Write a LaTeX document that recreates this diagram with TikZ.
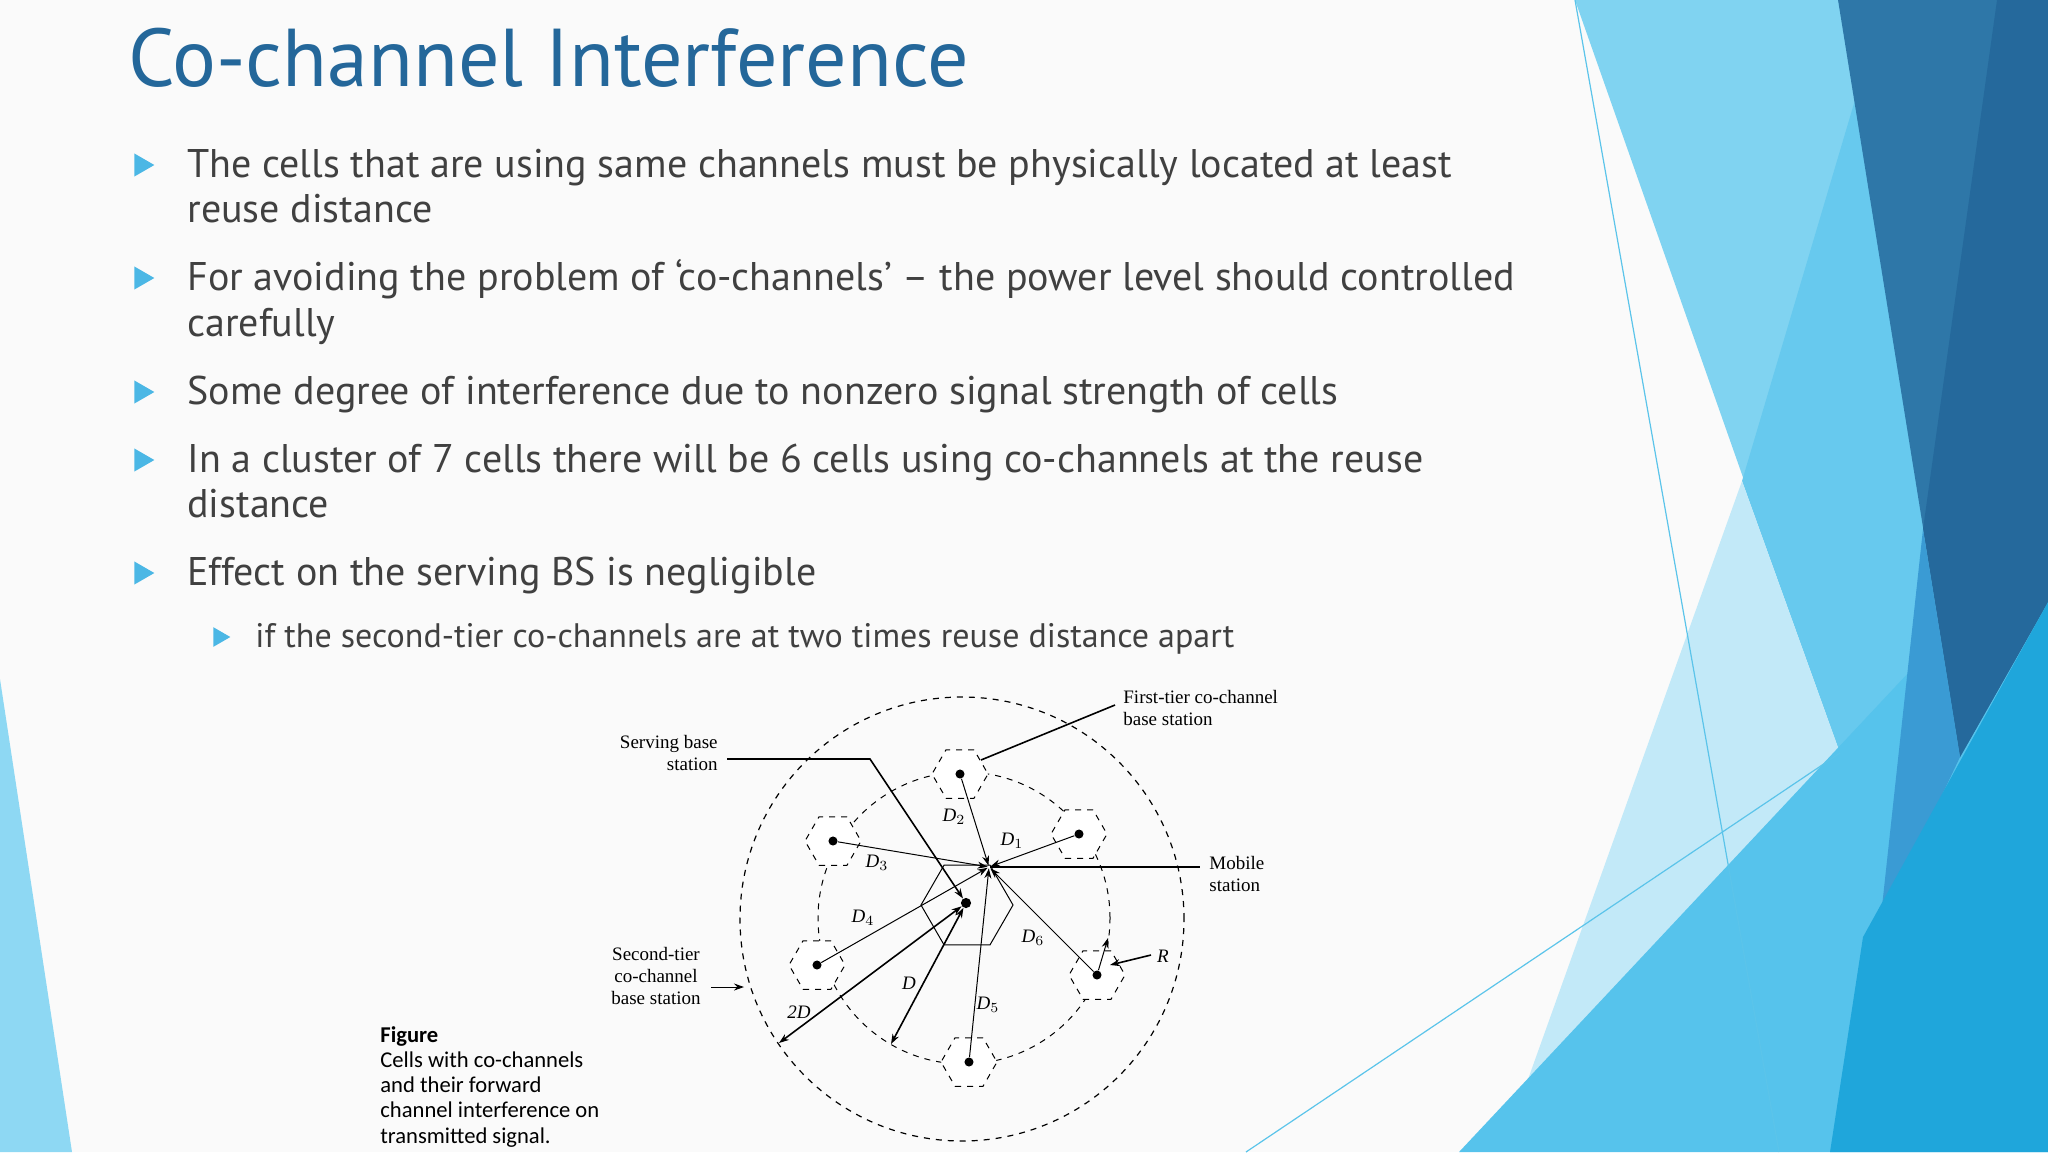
\documentclass[tikz,border=0pt]{standalone}
\usepackage{fontspec}
\setmainfont{PT Sans}
\newfontfamily\figfont{Liberation Serif}
\newfontfamily\capfont{Carlito}
\usetikzlibrary{shapes.geometric,arrows.meta}
\definecolor{titlec}{HTML}{24679A}
\definecolor{txt}{HTML}{404040}
\definecolor{bulc}{HTML}{4BB7E5}
\definecolor{fa}{HTML}{8ED8F3}
\definecolor{fb}{HTML}{80D3F1}
\definecolor{fc}{HTML}{67C9EE}
\definecolor{fd}{HTML}{C2E9F8}
\definecolor{fe}{HTML}{56C3EC}
\definecolor{ff}{HTML}{2E77A8}
\definecolor{fg}{HTML}{25699C}
\definecolor{fh}{HTML}{3A9BD4}
\definecolor{fi}{HTML}{1FA6DB}
\definecolor{fl}{HTML}{5BC4EA}
\tikzset{
 ln/.style={font=\fontsize{20pt}{24pt}\selectfont,text=txt,anchor=base west,inner sep=0},
 bul/.style={isosceles triangle,isosceles triangle apex angle=60,fill=bulc,inner sep=0,minimum size=10pt},
 sbul/.style={bul,minimum size=8.5pt},
 hexd/.style={regular polygon,regular polygon sides=6,draw,dashed,fill=white,minimum size=28pt,inner sep=0,line width=0.5pt},
 dot/.style={circle,fill,inner sep=1.6pt},
 flab/.style={font=\figfont\fontsize{9.5pt}{11pt}\selectfont,inner sep=0},
 dl/.style={font=\figfont\itshape\fontsize{9.5pt}{11pt}\selectfont,inner sep=0},
 ar/.style={-{Stealth[length=5pt,width=3.5pt]},line width=0.5pt},
 dar/.style={{Stealth[length=5pt,width=3.5pt]}-{Stealth[length=5pt,width=3.5pt]},line width=0.8pt},
 thick1/.style={line width=0.8pt}
}
\begin{document}
\begin{tikzpicture}[x=0.5pt,y=-0.5pt]
\useasboundingbox (0,0) rectangle (2048,1152);
\fill[white!98!black] (0,0) rectangle (2048,1152);
% background facets
\fill[fa] (0,679) -- (72,1152) -- (0,1152) -- cycle;
\fill[fb] (1575,0) -- (1840,0) -- (1960,757) -- (1840,753) -- cycle;
\fill[fc] (1742,481) -- (1855,100) -- (1960,757) -- (1840,753) -- cycle;
\fill[fd] (1742,481) -- (1840,753) -- (1523,1104) -- (1502,1152) -- cycle;
\fill[fe] (1459,1152) -- (1940,639) -- (2048,560) -- (2048,1152) -- cycle;
\fill[ff] (1838,0) -- (2048,0) -- (2048,602) -- (1960,757) -- cycle;
\fill[fg] (1997,0) -- (2048,0) -- (2048,602) -- (1960,757) -- (1923,529) -- cycle;
\fill[fh] (1923,529) -- (1960,757) -- (1880,925) -- cycle;
\fill[fi] (1830,1152) -- (1863,937) -- (2048,602) -- (2048,1152) -- cycle;
\draw[fl,line width=0.6pt] (1575,0) -- (1779,1152);
\draw[fl,line width=0.6pt] (1246,1152) -- (1840,753);
% title
\node[anchor=base west,inner sep=0,text=titlec,font=\fontsize{41pt}{44pt}\selectfont] (title) at (128,86) {Co-channel Interference};
% bullets
\node[bul] (m1) at (141,165) {};
\node[ln] (t1a) at (187,177) {The cells that are using same channels must be physically located at least};
\node[ln] (t1b) at (187,222) {reuse distance};
\node[bul] (m2) at (141,278) {};
\node[ln] (t2a) at (187,290) {For avoiding the problem of ‘co-channels’ – the power level should controlled};
\node[ln] (t2b) at (187,336) {carefully};
\node[bul] (m3) at (141,392) {};
\node[ln] (t3) at (187,404) {Some degree of interference due to nonzero signal strength of cells};
\node[bul] (m4) at (141,460) {};
\node[ln] (t4a) at (187,472) {In a cluster of 7 cells there will be 6 cells using co-channels at the reuse};
\node[ln] (t4b) at (187,517) {distance};
\node[bul] (m5) at (141,573) {};
\node[ln] (t5) at (187,585) {Effect on the serving BS is negligible};
\node[sbul] (m6) at (219,637) {};
\node[ln,font=\fontsize{17pt}{20pt}\selectfont] (t6) at (255,647) {if the second-tier co-channels are at two times reuse distance apart};
% caption
\node[anchor=north west,align=left,inner sep=0,text=black,font=\capfont\fontsize{11.3pt}{12.6pt}\selectfont] (cap) at (380,1026) {\textbf{Figure}\\Cells with co-channels\\and their forward\\channel interference on\\transmitted signal.};
% figure
\draw[dashed,line width=0.6pt] (962,919) circle[radius=111pt];
\draw[dashed,line width=0.5pt] (964,918) circle[radius=73pt];
\node[hexd] (h2) at (960,774) {};
\node[hexd] (h1) at (1079,834) {};
\node[hexd] (h3) at (833,841) {};
\node[hexd] (h4) at (817,965) {};
\node[hexd] (h6) at (1097,975) {};
\node[hexd] (h5) at (969,1062) {};
\node[regular polygon,regular polygon sides=6,draw,minimum size=46pt,inner sep=0,line width=0.5pt] (hc) at (967,905) {};
\foreach \n in {h1,h2,h3,h4,h5,h6}{\node[dot] (d\n) at (\n.center) {};}
\node[inner sep=0] (ms) at (989,867) {};
\node[dot,inner sep=1.8pt] (bs) at (966,903) {};
\foreach \n in {h1,h2,h3,h4,h5,h6}{\draw[ar] (d\n) -- (ms);}
\coordinate (s1) at (727,759); \coordinate (s2) at (870,759);
\draw[ar,line width=0.8pt] (s1) -- (s2) -- (bs);
\coordinate (f1) at (981,760); \coordinate (f2) at (1115,705);
\draw[thick1] (f1) -- (f2);
\coordinate (m2e) at (1200,867);
\draw[thick1] (ms) -- (m2e);
\coordinate (st1) at (711,987); \coordinate (st2) at (744,987);
\draw[ar] (st1) -- (st2);
\coordinate (r1) at (1151,955); \coordinate (r2) at (1110,965);
\draw[ar,line width=0.8pt] (r1) -- (r2);
\coordinate (r3) at (1108,938);
\draw[ar] (dh6) -- (r3);
\coordinate (e2d) at (779,1043); \coordinate (eD) at (891,1044);
\draw[dar] (bs) -- (e2d);
\draw[dar] (bs) -- (eD);
% text labels
\node[flab,align=right,anchor=north east] (lsb) at (718,735) {Serving base\\station};
\node[flab,align=left,anchor=north west] (lft) at (1123,690) {First-tier co-channel\\base station};
\node[flab,align=left,anchor=north west] (lms) at (1209,856) {Mobile\\station};
\node[flab,align=center,anchor=north] (lst) at (656,947) {Second-tier\\co-channel\\base station};
\node[dl] (D2) at (954,817) {D$_2$};
\node[dl] (D1) at (1012,841) {D$_1$};
\node[dl] (D3) at (877,863) {D$_3$};
\node[dl] (D4) at (863,918) {D$_4$};
\node[dl] (D6) at (1033,938) {D$_6$};
\node[dl] (DD) at (909,983) {D};
\node[dl] (D5) at (988,1005) {D$_5$};
\node[dl] (D2D) at (799,1012) {2D};
\node[dl] (RR) at (1163,956) {R};
\end{tikzpicture}
\end{document}
